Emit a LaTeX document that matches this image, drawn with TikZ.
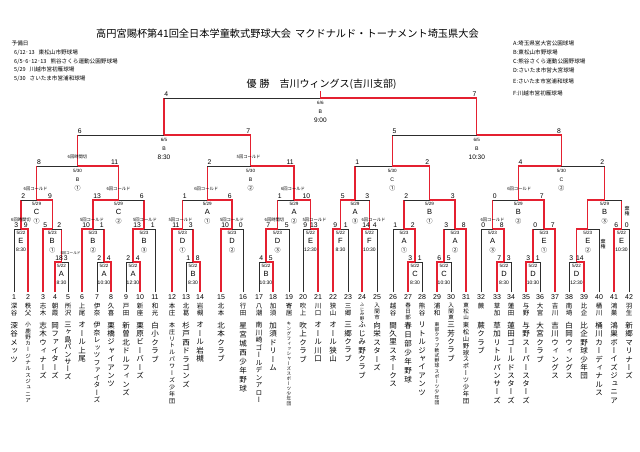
\documentclass[tikz,border=0pt]{standalone}
\usepackage{fontspec}
\setmainfont{Liberation Sans}
\newfontfamily\jp{Noto Sans CJK JP}
\newfontfamily\vjp[RawFeature=+vert]{Noto Sans CJK JP}
\usetikzlibrary{calc}
\definecolor{wr}{RGB}{228,32,48}
\definecolor{ln}{RGB}{45,45,45}
\def\vstkloop#1{\ifx#1\relax\else\hbox to 12pt{\hss#1\hss}\expandafter\vstkloop\fi}
\newcommand\vstk[3]{\vbox{\fontsize{#1}{#2}\vjp\baselineskip=#2pt\lineskiplimit=-20pt\lineskip=0pt\vstkloop#3\relax}}
\tikzset{
 w/.style={draw=wr,line width=1.15pt},
 l/.style={draw=ln,line width=0.65pt},
 num/.style={font=\fontsize{7}{7}\selectfont,inner sep=0pt},
 scr/.style={font=\fontsize{6.8}{7}\selectfont,inner sep=0pt},
 dt/.style={font=\fontsize{4.6}{5}\selectfont,inner sep=0pt},
 lt/.style={font=\fontsize{7.5}{8}\selectfont,inner sep=0pt},
 ls/.style={font=\fontsize{5.2}{5.5}\selectfont,inner sep=0pt},
 cir/.style={font=\jp\fontsize{6}{6}\selectfont,inner sep=0pt},
 tm/.style={font=\fontsize{5}{5}\selectfont,inner sep=0pt},
 tb/.style={font=\fontsize{6.5}{6.5}\selectfont,inner sep=0pt},
 lab/.style={font=\jp\fontsize{4.3}{4.3}\selectfont,inner sep=0pt},
 leg/.style={font=\jp\fontsize{5.6}{5.6}\selectfont,inner sep=0pt,anchor=west},
 vt/.style={anchor=north,inner sep=0pt},
}
% match drawing: #1 match, #2 left child, #3 right child, #4 style of loser vertical
\newcommand\ML[4]{\draw[#4] (#3) -- (#3 |- #1); \draw[l] (#3 |- #1) -- (#1); \draw[w] (#2) |- (#1);}
\newcommand\MR[4]{\draw[#4] (#2) -- (#2 |- #1); \draw[l] (#2 |- #1) -- (#1); \draw[w] (#3) |- (#1);}
\newcommand\sco[5]{\node[scr,anchor=south west] (#1s) at ($(#2 |- #1)+(0.2,-0.9)$) {#4};
 \node[scr,anchor=south east] (#1u) at ($(#3 |- #1)+(-0.2,-0.9)$) {#5};}
\newcommand\info[6]{\node[dt] (#1d) at ($(#1)+(0,3.7)$) {#2};
 \node[#3] (#1l) at ($(#1)+(0,12.4)$) {#4};
 \node[#5] (#1t) at ($(#1)+(0,20.9)$) {#6};}
\newcommand\infoB[6]{\node[dt] (#1d) at ($(#1)+(0,5.3)$) {#2};
 \node[#3] (#1l) at ($(#1)+(0,13.8)$) {#4};
 \node[#5] (#1t) at ($(#1)+(0,22)$) {#6};}
\newcommand\team[8]{\node[vt] (r#1) at (#2,303) {\vstk{#4}{#5}{#3}};
 \node[vt] (m#1) at (#2,322) {\vstk{#7}{#8}{#6}};}
\begin{document}
\begin{tikzpicture}[x=1pt,y=-1pt]
\useasboundingbox (0,0) rectangle (640,452);
\fill[white] (0,0) rectangle (640,452);
% title and legends
\node (title) at (287.5,34) {\jp\fontsize{10.2}{10.2}\selectfont 高円宮賜杯第41回全日本学童軟式野球大会\hspace{4pt}マクドナルド・トーナメント埼玉県大会};
\node[leg] (lg0) at (11.5,43.3) {予備日};
\node[leg] (lg1) at (14,52.3) {6/12･13\hspace{4pt}東松山市野球場};
\node[leg] (lg2) at (14,61.2) {6/5･6･12･13\hspace{4pt}熊谷さくら運動公園野球場};
\node[leg] (lg3) at (14,70) {5/29\hspace{4pt}川越市営初雁球場};
\node[leg] (lg4) at (14,78.8) {5/30\hspace{4pt}さいたま市営浦和球場};
\node[leg] (va) at (513,43.3) {A:埼玉県営大宮公園球場};
\node[leg] (vb) at (513,52.3) {B:東松山市野球場};
\node[leg] (vc) at (513,61.2) {C:熊谷さくら運動公園野球場};
\node[leg] (vd) at (513,70) {D:さいたま市営大宮球場};
\node[leg] (ve) at (513,81.3) {E:さいたま市営浦和球場};
\node[leg] (vf) at (513,93.3) {F:川越市営初雁球場};
\node[anchor=west,inner sep=0pt] (champ) at (246.5,84) {\jp\fontsize{10}{10}\selectfont 優\hspace{3pt}勝\hspace{10pt}吉川ウィングス(吉川支部)};
% leaves
\foreach \i/\x in {1/14,2/28,3/43,4/55,5/68,6/82,7/97,8/111,9/126,10/140,11/155,12/172,13/186,14/200,15/221,16/243,17/259,18/273,19/289,20/303,21/318,22/333,23/348,24/362,25/377,26/393,27/408,28/422,29/437,30/451,31/466,32/481,33/497,34/511,35/526,36/540,37/555,38/569,39/584,40/599,41/614,42/629}{
 \coordinate (t\i) at (\x,292);
 \node[num] (n\i) at (\x,297.5) {\i};
}
% match points
\coordinate (sA1) at (61.5,262); \coordinate (sA2) at (104,262); \coordinate (sA3) at (133,262);
\coordinate (sB4) at (193,262); \coordinate (sB5) at (266,262); \coordinate (sC1) at (415,262);
\coordinate (sC2) at (444,262); \coordinate (sD1) at (504,262); \coordinate (sD2) at (533,262);
\coordinate (sD3) at (576.5,262);
\coordinate (bE1) at (21,229); \coordinate (bB1) at (52.25,229); \coordinate (bB2) at (93,229);
\coordinate (bB3) at (144,229); \coordinate (bD1) at (182.5,229); \coordinate (bD2) at (232,229);
\coordinate (bD3) at (277.5,229); \coordinate (bE2) at (310.5,229); \coordinate (bF1) at (340.5,229);
\coordinate (bF2) at (369.5,229); \coordinate (bA1) at (404,229); \coordinate (bA2) at (455,229);
\coordinate (bA3) at (492.5,229); \coordinate (bE3) at (544,229); \coordinate (bE4) at (587.75,229);
\coordinate (bE5) at (621.5,229);
\coordinate (cC1) at (36.6,200); \coordinate (cC2) at (118.5,200); \coordinate (cA1) at (207.25,200);
\coordinate (cA2) at (294,200); \coordinate (cA3) at (355,200); \coordinate (cB1) at (429.5,200);
\coordinate (cB2) at (518.25,200); \coordinate (cB3) at (604.6,200);
\coordinate (dB1) at (77.5,166); \coordinate (dB2) at (250.6,166); \coordinate (dC1) at (392.25,166);
\coordinate (dC2) at (561.4,166);
\coordinate (eB1) at (164,135); \coordinate (eB2) at (476.8,135);
\coordinate (fin) at (320.4,98); \coordinate (top) at (320.4,91);
% bracket lines
\ML{sA1}{t4}{t5}{l} \MR{sA2}{t7}{t8}{l} \MR{sA3}{t9}{t10}{l} \MR{sB4}{t13}{t14}{l}
\MR{sB5}{t17}{t18}{l} \ML{sC1}{t27}{t28}{l} \ML{sC2}{t29}{t30}{l} \ML{sD1}{t33}{t34}{l}
\ML{sD2}{t35}{t36}{l} \MR{sD3}{t38}{t39}{l}
\MR{bE1}{t1}{t2}{l} \ML{bB1}{t3}{sA1}{w} \ML{bB2}{t6}{sA2}{w} \ML{bB3}{sA3}{t11}{l}
\ML{bD1}{t12}{sB4}{w} \ML{bD2}{t15}{t16}{l} \ML{bD3}{sB5}{t19}{l} \MR{bE2}{t20}{t21}{l}
\ML{bF1}{t22}{t23}{l} \ML{bF2}{t24}{t25}{l} \MR{bA1}{t26}{sC1}{l} \MR{bA2}{sC2}{t31}{w}
\MR{bA3}{t32}{sD1}{l} \MR{bE3}{sD2}{t37}{w} \ML{bE4}{sD3}{t40}{l} \ML{bE5}{t41}{t42}{l}
\MR{cC1}{bE1}{bB1}{w} \ML{cC2}{bB2}{bB3}{w} \MR{cA1}{bD1}{bD2}{w} \MR{cA2}{bD3}{bE2}{w}
\ML{cA3}{bF1}{bF2}{w} \MR{cB1}{bA1}{bA2}{w} \MR{cB2}{bA3}{bE3}{w} \ML{cB3}{bE4}{bE5}{w}
\MR{dB1}{cC1}{cC2}{w} \MR{dB2}{cA1}{cA2}{w} \MR{dC1}{cA3}{cB1}{w} \ML{dC2}{cB2}{cB3}{w}
\MR{eB1}{dB1}{dB2}{w} \MR{eB2}{dC1}{dC2}{w}
\MR{fin}{eB1}{eB2}{w}
\draw[w] (fin) -- (top);
% scores
\sco{sA1}{t4}{t5}{18}{3} \sco{sA2}{t7}{t8}{2}{4} \sco{sA3}{t9}{t10}{2}{4} \sco{sB4}{t13}{t14}{1}{8}
\sco{sB5}{t17}{t18}{4}{5} \sco{sC1}{t27}{t28}{3}{1} \sco{sC2}{t29}{t30}{6}{5} \sco{sD1}{t33}{t34}{7}{3}
\sco{sD2}{t35}{t36}{3}{1} \sco{sD3}{t38}{t39}{3}{14}
\sco{bE1}{t1}{t2}{3}{9} \sco{bB1}{t3}{sA1}{5}{2} \sco{bB2}{t6}{sA2}{10}{1} \sco{bB3}{sA3}{t11}{13}{1}
\sco{bD1}{t12}{sB4}{11}{3} \sco{bD2}{t15}{t16}{10}{0} \sco{bD3}{sB5}{t19}{7}{5} \sco{bE2}{t20}{t21}{9}{13}
\sco{bF1}{t22}{t23}{9}{1} \sco{bF2}{t24}{t25}{14}{4} \sco{bA1}{t26}{sC1}{1}{2} \sco{bA2}{sC2}{t31}{3}{8}
\sco{bA3}{t32}{sD1}{0}{8} \sco{bE3}{sD2}{t37}{0}{7} \sco{bE5}{t41}{t42}{6}{0}
\sco{cC1}{bE1}{bB1}{2}{9} \sco{cC2}{bB2}{bB3}{13}{6} \sco{cA1}{bD1}{bD2}{1}{6} \sco{cA2}{bD3}{bE2}{1}{10}
\sco{cA3}{bF1}{bF2}{5}{3} \sco{cB1}{bA1}{bA2}{2}{3} \sco{cB2}{bA3}{bE3}{0}{7}
\sco{dB1}{cC1}{cC2}{8}{11} \sco{dB2}{cA1}{cA2}{2}{11} \sco{dC1}{cA3}{cB1}{1}{2} \sco{dC2}{cB2}{cB3}{4}{2}
\sco{eB1}{dB1}{dB2}{6}{7} \sco{eB2}{dC1}{dC2}{5}{8}
\sco{fin}{eB1}{eB2}{4}{7}
% match info
\info{sA1}{5/22}{lt}{A}{tm}{8:30} \info{sA2}{5/22}{lt}{A}{tm}{10:30} \info{sA3}{5/22}{lt}{A}{tm}{12:30}
\info{sB4}{5/22}{lt}{B}{tm}{8:30} \info{sB5}{5/22}{lt}{B}{tm}{10:30} \info{sC1}{5/22}{lt}{C}{tm}{8:30}
\info{sC2}{5/22}{lt}{C}{tm}{10:30} \info{sD1}{5/22}{lt}{D}{tm}{8:30} \info{sD2}{5/22}{lt}{D}{tm}{10:30}
\info{sD3}{5/22}{lt}{D}{tm}{12:30}
\info{bE1}{5/22}{lt}{E}{tm}{8:30} \info{bB1}{5/23}{lt}{B}{cir}{①} \info{bB2}{5/23}{lt}{B}{cir}{②}
\info{bB3}{5/23}{lt}{B}{cir}{③} \info{bD1}{5/23}{lt}{D}{cir}{①} \info{bD2}{5/23}{lt}{D}{cir}{②}
\info{bD3}{5/23}{lt}{D}{cir}{③} \info{bE2}{5/22}{lt}{E}{tm}{12:30} \info{bF1}{5/22}{lt}{F}{tm}{8:30}
\info{bF2}{5/22}{lt}{F}{tm}{10:30} \info{bA1}{5/23}{lt}{A}{cir}{①} \info{bA2}{5/23}{lt}{A}{cir}{②}
\info{bA3}{5/23}{lt}{A}{cir}{③} \info{bE3}{5/23}{lt}{E}{cir}{①} \info{bE4}{5/23}{lt}{E}{cir}{②}
\info{bE5}{5/22}{lt}{E}{tm}{10:30}
\info{cC1}{5/29}{lt}{C}{cir}{①} \info{cC2}{5/29}{lt}{C}{cir}{②} \info{cA1}{5/29}{lt}{A}{cir}{①}
\info{cA2}{5/29}{lt}{A}{cir}{②} \info{cA3}{5/29}{lt}{A}{cir}{③} \info{cB1}{5/29}{lt}{B}{cir}{①}
\info{cB2}{5/29}{lt}{B}{cir}{②} \info{cB3}{5/29}{lt}{B}{cir}{③}
\infoB{dB1}{5/30}{ls}{B}{cir}{①} \infoB{dB2}{5/30}{ls}{B}{cir}{②} \infoB{dC1}{5/30}{ls}{C}{cir}{①}
\infoB{dC2}{5/30}{ls}{C}{cir}{②}
\infoB{eB1}{6/5}{ls}{B}{tb}{8:30} \infoB{eB2}{6/5}{ls}{B}{tb}{10:30}
\infoB{fin}{6/6}{ls}{B}{tb}{9:00}
% result notes
\node[lab] (xdB1) at ($(dB1)+(0,-9.5)$) {6回時間切};
\node[lab] (xdB2) at ($(dB2)+(-2,-9.5)$) {5回コールド};
\node[lab] (xcC1) at ($(cC1)+(-1,-11.5)$) {6回コールド};
\node[lab] (xcC2) at ($(cC2)+(0,-11.5)$) {6回コールド};
\node[lab] (xcA1) at ($(cA1)+(-1,-11.5)$) {6回コールド};
\node[lab] (xcA2) at ($(cA2)+(-1,-11.5)$) {6回コールド};
\node[lab] (xcB2) at ($(cB2)+(1,-11.5)$) {6回コールド};
\node[lab] (xbE1) at ($(bE1)+(0,-9)$) {6回時間切};
\node[lab] (xbB2) at ($(bB2)+(-1,-9)$) {5回コールド};
\node[lab] (xbB3) at ($(bB3)+(1,-9)$) {5回コールド};
\node[lab] (xbD1) at ($(bD1)+(-2,-9)$) {5回コールド};
\node[lab] (xbD2) at ($(bD2)+(0,-9)$) {5回コールド};
\node[lab] (xbD3) at ($(bD3)+(-3,-9)$) {6回時間切};
\node[lab] (xbE2) at ($(bE2)+(4,-9)$) {5回コールド};
\node[lab] (xbF2) at ($(bF2)+(4,-9)$) {6回コールド};
\node[lab] (xbA3) at ($(bA3)+(0,-9)$) {6回コールド};
\node[lab,font=\jp\fontsize{3.6}{3.6}\selectfont] (xsA1) at ($(sA1)+(9,-9)$) {5回コールド};
\node[inner sep=0pt] (kk1) at (603,244) {\vstk{5}{5.5}{棄権}};
\node[inner sep=0pt] (kk2) at (627,211) {\vstk{5}{5.5}{棄権}};
% teams
\team{1}{14}{深谷}{6.5}{7}{深谷メッツ}{7.5}{8.4}
\team{2}{28}{秩父}{6.5}{7}{小鹿野カージナルスジュニア}{5.5}{6.3}
\team{3}{43}{志木}{6.5}{7}{志木ウィナーズ}{7.5}{8.4}
\team{4}{55}{朝霞}{6.5}{7}{岡ファイターズ}{7.5}{8.4}
\team{5}{68}{所沢}{6.5}{7}{三ヶ島パンサーズ}{7.2}{7.4}
\team{6}{82}{上尾}{6.5}{7}{オール上尾}{7.5}{8.4}
\team{7}{97}{伊奈}{6.5}{7}{伊奈レッツファイターズ}{6.8}{7.5}
\team{8}{111}{久喜}{6.5}{7}{栗橋ジャイアンツ}{7.5}{8.4}
\team{9}{126}{戸田}{6.5}{7}{新曽北ドルフィンズ}{7.5}{8.4}
\team{10}{140}{新座}{6.5}{7}{栗原ビーバーズ}{7.5}{8.4}
\team{11}{155}{和光}{6.5}{7}{白小クラブ}{7.5}{8.4}
\team{12}{172}{本庄}{6.5}{7}{本庄リトルパワーズ少年団}{6}{6.9}
\team{13}{186}{北葛}{6.5}{7}{杉戸西ドラゴンズ}{7.5}{8.4}
\team{14}{200}{岩槻}{6.5}{7}{オール岩槻}{7.5}{8.4}
\team{15}{221}{北本}{6.5}{7}{北本クラブ}{7.5}{8.4}
\team{16}{243}{行田}{6.5}{7}{星宮城西少年野球}{7.5}{9}
\team{17}{259}{八潮}{6.5}{7}{南川崎ゴールデンアロー}{6.8}{7.5}
\team{18}{273}{加須}{6.5}{7}{加須ドリーム}{7.5}{8.4}
\team{19}{289}{寄居}{6.5}{7}{キングフィッシャーズスポーツ少年団}{4.6}{5}
\team{20}{303}{吹上}{6.5}{7}{吹上クラブ}{7.5}{8.4}
\team{21}{318}{川口}{6.5}{7}{オール川口}{7.5}{8.4}
\team{22}{333}{狭山}{6.5}{7}{オール狭山}{7.5}{8.4}
\team{23}{348}{三郷}{6.5}{7}{三郷クラブ}{7.5}{8.4}
\team{24}{362}{ふじみ野}{4.5}{4.6}{ふじみ野クラブ}{7.5}{8.4}
\team{25}{377}{入間市}{5.5}{6}{向栄スターズ}{7.5}{8.4}
\team{26}{393}{越谷}{6.5}{7}{間久里スネークス}{7.5}{8.4}
\team{27}{408}{春日部}{5.5}{6}{春日部少年野球}{7.5}{9}
\team{28}{422}{熊谷}{6.5}{7}{リトルジャイアンツ}{7.5}{8.4}
\team{29}{437}{浦和}{6.5}{7}{東部クラブ軟式野球スポーツ少年団}{4.8}{5.2}
\team{30}{451}{入間東}{5.5}{6}{三芳クラブ}{7.5}{8.4}
\team{31}{466}{東松山}{5.5}{6}{東松山野球スポーツ少年団}{6.3}{6.9}
\team{32}{481}{蕨}{6.5}{7}{蕨クラブ}{7.5}{8.4}
\team{33}{497}{草加}{6.5}{7}{草加リトルパンサーズ}{7.5}{8.3}
\team{34}{511}{蓮田}{6.5}{7}{蓮田ゴールドスターズ}{7.5}{8.3}
\team{35}{526}{与野}{6.5}{7}{与野スーパースターズ}{7.5}{8.3}
\team{36}{540}{大宮}{6.5}{7}{大宮クラブ}{7.5}{8.4}
\team{37}{555}{吉川}{6.5}{7}{吉川ウィングス}{7.5}{8.4}
\team{38}{569}{南埼}{6.5}{7}{白岡ウィングス}{7.5}{8.4}
\team{39}{584}{比企}{6.5}{7}{比企野球少年団}{7.5}{8.4}
\team{40}{599}{桶川}{6.5}{7}{桶川カーディナルス}{7.5}{8.4}
\team{41}{614}{鴻巣}{6.5}{7}{鴻巣ボーイズジュニア}{7.5}{8.3}
\team{42}{629}{羽生}{6.5}{7}{新郷マリナーズ}{7.5}{8.4}
\end{tikzpicture}
\end{document}
